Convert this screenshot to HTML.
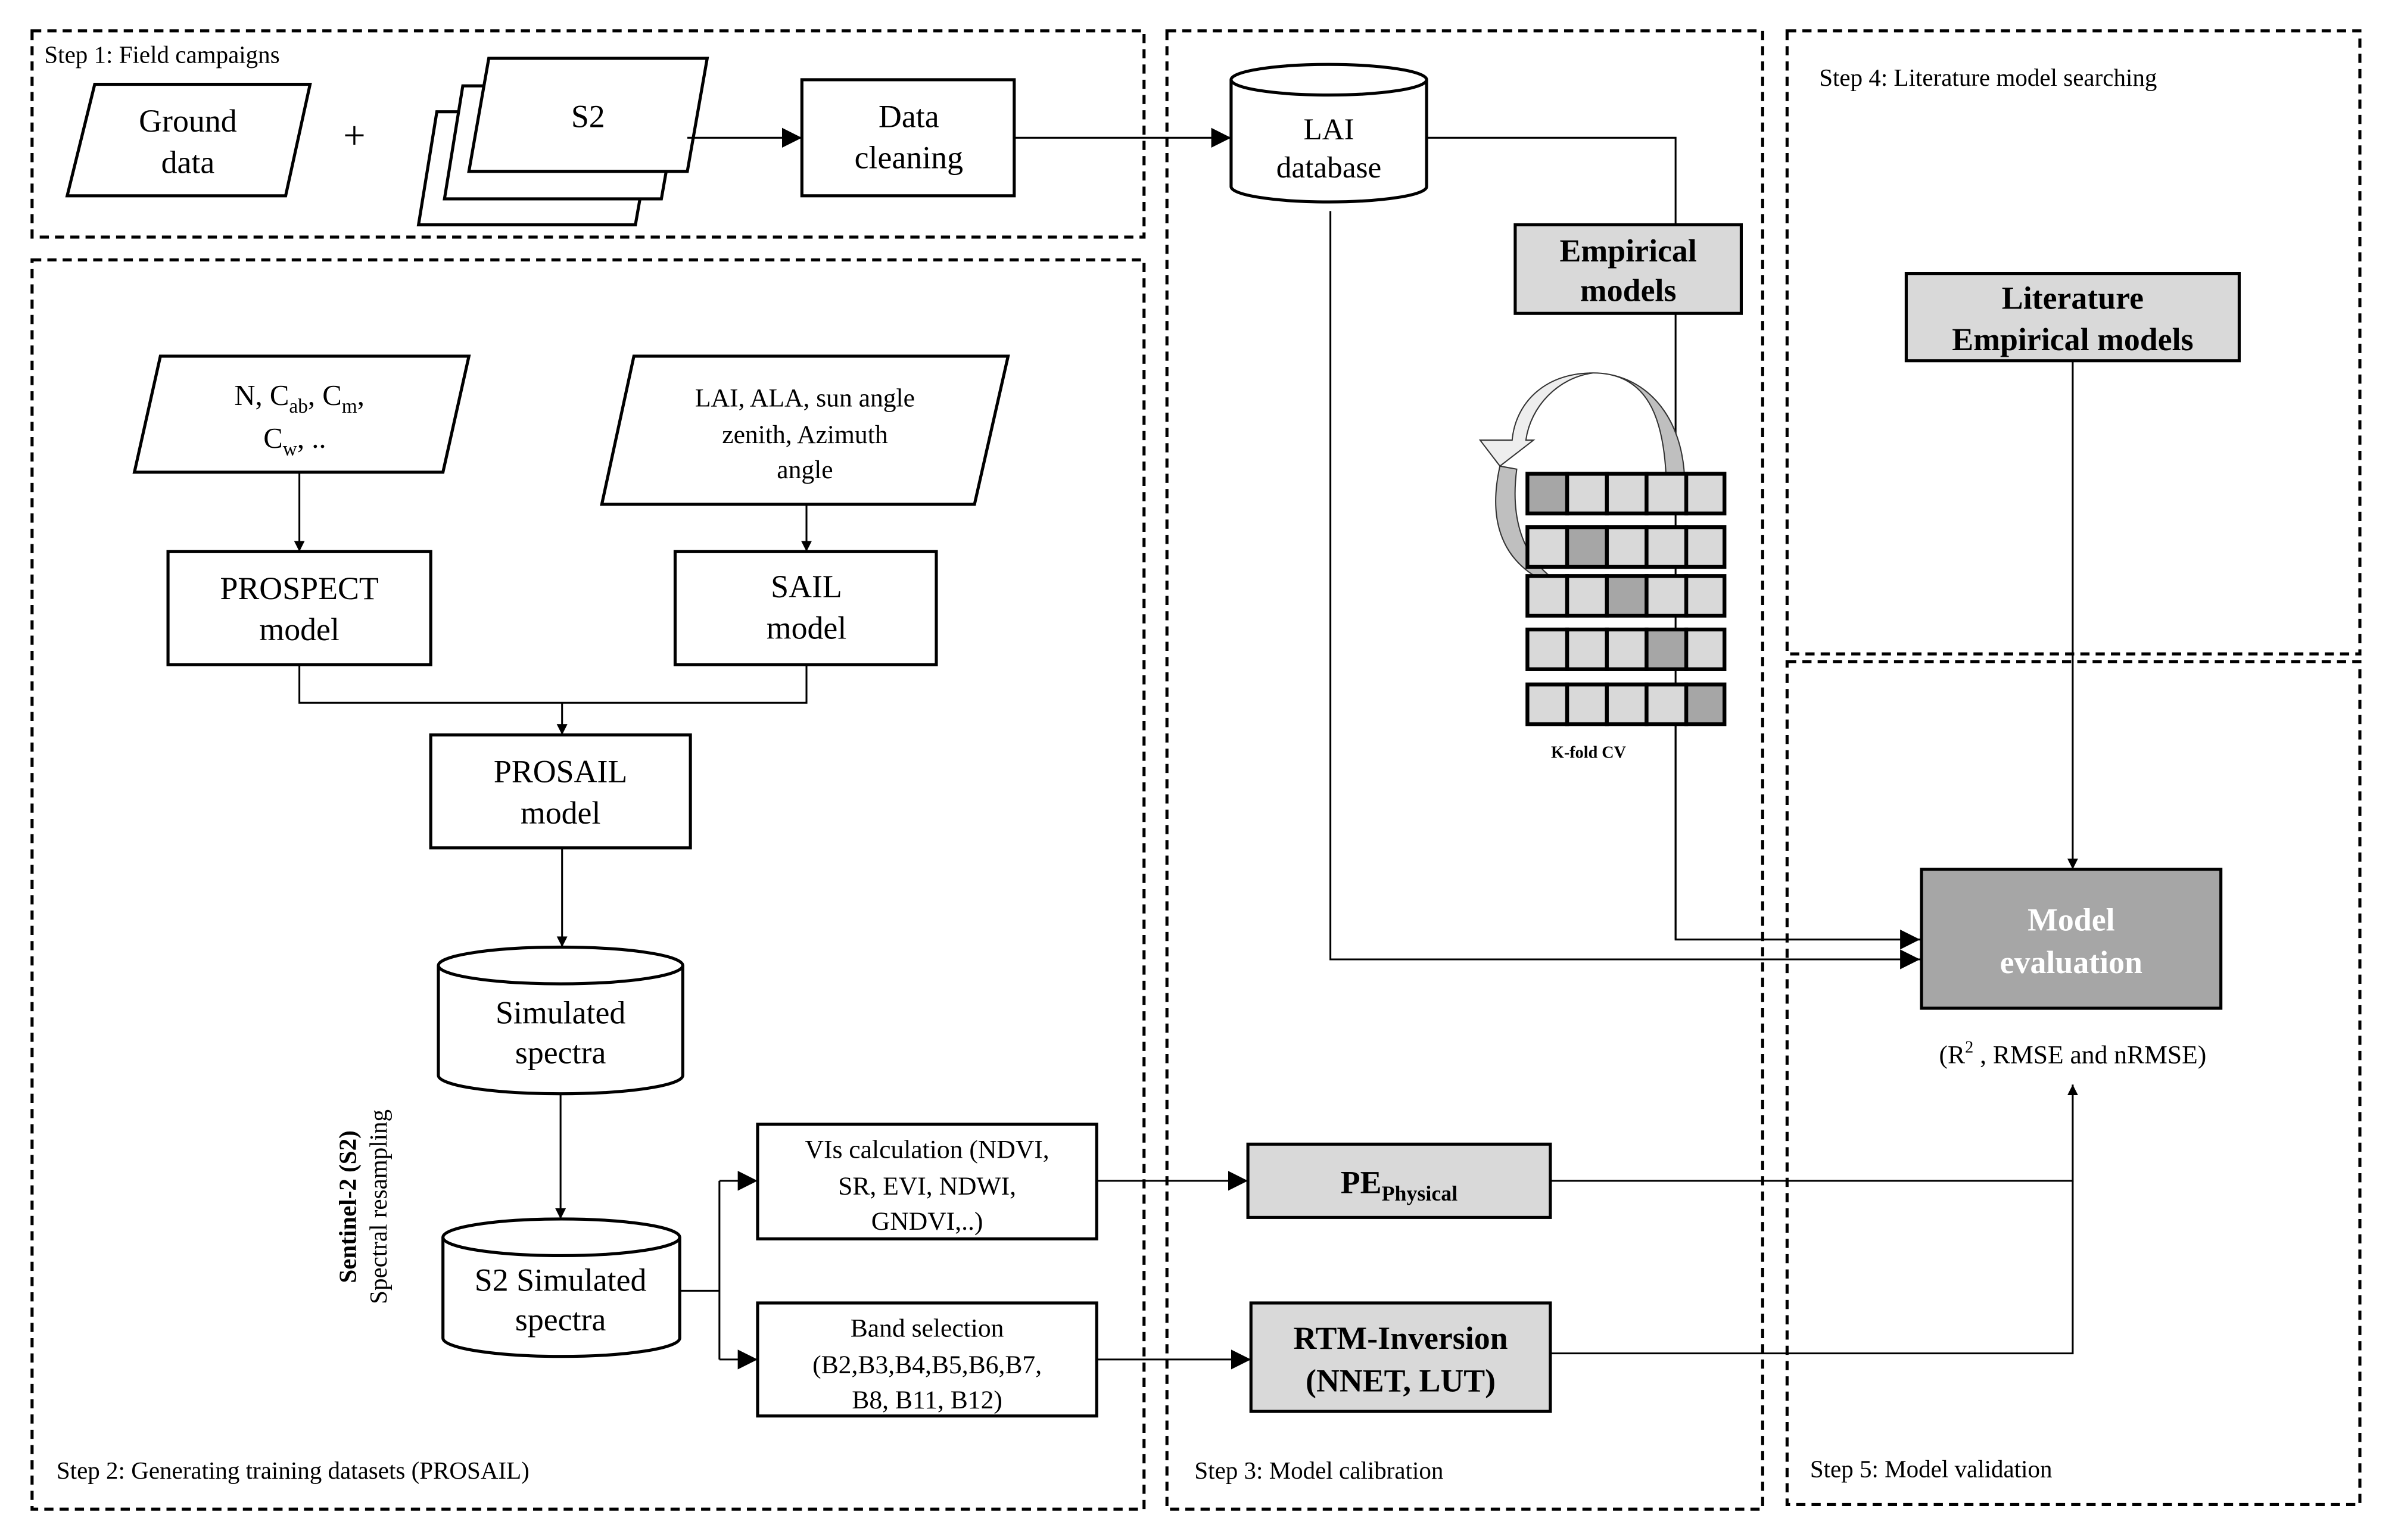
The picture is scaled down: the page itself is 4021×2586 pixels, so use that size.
<!DOCTYPE html>
<html><head><meta charset="utf-8"><style>html,body{margin:0;padding:0;background:#fff}svg{display:block}svg text{font-family:"Liberation Serif","Times New Roman",serif}</style></head>
<body>
<svg xmlns="http://www.w3.org/2000/svg" width="4021" height="2586" viewBox="0 0 1568 1008" font-family="'Liberation Serif', serif">
<defs>
<marker id="a" viewBox="0 0 10 10" refX="10" refY="5" markerWidth="7" markerHeight="7" orient="auto" markerUnits="userSpaceOnUse"><path d="M0,0 L10,5 L0,10z" fill="#000"/></marker>
<marker id="b" viewBox="0 0 10 10" refX="10" refY="5" markerWidth="13" markerHeight="13" orient="auto" markerUnits="userSpaceOnUse"><path d="M0,0 L10,5 L0,10z" fill="#000"/></marker>
</defs>
<rect width="1568" height="1008" fill="#fff"/>
<g fill="none" stroke="#000" stroke-width="2" stroke-dasharray="6,4">
<rect x="21" y="20" width="728" height="135"/>
<rect x="21" y="170" width="728" height="818"/>
<rect x="764" y="20" width="390" height="968"/>
<rect x="1170" y="20" width="375" height="408"/>
<rect x="1170" y="433" width="375" height="552"/>
</g>
<g font-size="16">
<text x="29" y="41">Step 1: Field campaigns</text>
<text x="37" y="968">Step 2: Generating  training  datasets (PROSAIL)</text>
<text x="782" y="968">Step 3: Model calibration</text>
<text x="1191" y="56">Step 4: Literature  model searching</text>
<text x="1185" y="967">Step 5: Model validation</text>
</g>
<g stroke="#000" stroke-width="2" fill="#fff">
<polygon points="62,55 203,55 187,128 44,128"/>
<polygon points="286,73 429,73 416,147 274,147"/>
<polygon points="303,56 446,56 433,130 291,130"/>
<polygon points="320,38 463,38 450,112 307,112"/>
<rect x="525" y="52" width="139" height="76"/>
<path d="M806,52 v70 a64,10 0 0 0 128,0 v-70"/>
<ellipse cx="870" cy="52" rx="64" ry="10"/>
<polygon points="105,233 307,233 290,309 88,309"/>
<polygon points="415,233 660,233 638,330 394,330"/>
<rect x="110" y="361" width="172" height="74"/>
<rect x="442" y="361" width="171" height="74"/>
<rect x="282" y="481" width="170" height="74"/>
<path d="M287,632 v72 a80,12 0 0 0 160,0 v-72"/>
<ellipse cx="367" cy="632" rx="80" ry="12"/>
<path d="M290,810 v66 a77.5,12 0 0 0 155,0 v-66"/>
<ellipse cx="367.5" cy="810" rx="77.5" ry="12"/>
<rect x="496" y="736" width="222" height="75"/>
<rect x="496" y="853" width="222" height="74"/>
<rect x="992" y="147" width="148" height="58" fill="#d9d9d9"/>
<rect x="1248" y="179" width="218" height="57" fill="#d9d9d9"/>
<rect x="1258" y="569" width="196" height="91" fill="#a6a6a6"/>
<rect x="817" y="749" width="198" height="48" fill="#d9d9d9"/>
<rect x="819" y="853" width="196" height="71" fill="#d9d9d9"/>
</g>
<g stroke="#000" stroke-width="1.2" fill="none">
<line x1="450" y1="90" x2="525" y2="90" marker-end="url(#b)"/>
<line x1="664" y1="90" x2="806" y2="90" marker-end="url(#b)"/>
<polyline points="934,90 1097,90 1097,147"/>
<polyline points="1097,205 1097,615 1257,615" marker-end="url(#b)"/>
<polyline points="871,138 871,628 1257,628" marker-end="url(#b)"/>
<line x1="1357" y1="236" x2="1357" y2="569" marker-end="url(#a)"/>
<polyline points="1015,773 1357,773 1357,710" marker-end="url(#a)"/>
<polyline points="1015,886 1357,886 1357,773"/>
<line x1="718" y1="773" x2="817" y2="773" marker-end="url(#b)"/>
<line x1="718" y1="890" x2="819" y2="890" marker-end="url(#b)"/>
<line x1="445" y1="845" x2="471" y2="845"/>
<line x1="471" y1="773" x2="471" y2="890"/>
<line x1="471" y1="773" x2="496" y2="773" marker-end="url(#b)"/>
<line x1="471" y1="890" x2="496" y2="890" marker-end="url(#b)"/>
<line x1="196" y1="309" x2="196" y2="361" marker-end="url(#a)"/>
<line x1="528" y1="330" x2="528" y2="361" marker-end="url(#a)"/>
<polyline points="196,435 196,460 528,460 528,435"/>
<line x1="368" y1="460" x2="368" y2="481" marker-end="url(#a)"/>
<line x1="368" y1="555" x2="368" y2="620" marker-end="url(#a)"/>
<line x1="367" y1="716" x2="367" y2="798" marker-end="url(#a)"/>
</g>
<!-- K-fold arrows -->
<g stroke="#333" stroke-width="0.8">
<path d="M1040,594 Z" fill="none"/>
<path d="M1103,318 C1103,270 1075,244 1043,244 C1078,244 1090,272 1091,318 Z" fill="#bfbfbf"/>
<path d="M1043,244 C1010,244 992,265 990,288 L969,288 L982,305 L1004,288 L999,288 C1002,266 1020,247 1043,244 Z" fill="#eee"/>
<path d="M982,305 C973,345 985,378 1034,388 C1000,375 988,345 993,307 Z" fill="#bfbfbf"/>
</g>
<g stroke="#000" stroke-width="2.5">
<g fill="#d9d9d9">
<rect x="1000" y="310" width="26" height="26" fill="#a6a6a6"/><rect x="1026" y="310" width="26" height="26"/><rect x="1052" y="310" width="26" height="26"/><rect x="1078" y="310" width="26" height="26"/><rect x="1104" y="310" width="25" height="26"/>
<rect x="1000" y="345" width="26" height="26"/><rect x="1026" y="345" width="26" height="26" fill="#a6a6a6"/><rect x="1052" y="345" width="26" height="26"/><rect x="1078" y="345" width="26" height="26"/><rect x="1104" y="345" width="25" height="26"/>
<rect x="1000" y="377" width="26" height="26"/><rect x="1026" y="377" width="26" height="26"/><rect x="1052" y="377" width="26" height="26" fill="#a6a6a6"/><rect x="1078" y="377" width="26" height="26"/><rect x="1104" y="377" width="25" height="26"/>
<rect x="1000" y="412" width="26" height="26"/><rect x="1026" y="412" width="26" height="26"/><rect x="1052" y="412" width="26" height="26"/><rect x="1078" y="412" width="26" height="26" fill="#a6a6a6"/><rect x="1104" y="412" width="25" height="26"/>
<rect x="1000" y="448" width="26" height="26"/><rect x="1026" y="448" width="26" height="26"/><rect x="1052" y="448" width="26" height="26"/><rect x="1078" y="448" width="26" height="26"/><rect x="1104" y="448" width="25" height="26" fill="#a6a6a6"/>
</g></g>
<line x1="1097" y1="474" x2="1097" y2="615" stroke="#000" stroke-width="1.2"/>
<text x="1040" y="496" font-size="11" font-weight="bold" text-anchor="middle">K-fold  CV</text>
<g font-size="21" text-anchor="middle">
<text x="232" y="97" font-size="26">+</text>
<text x="123" y="86">Ground</text><text x="123" y="113">data</text>
<text x="385" y="83">S2</text>
<text x="595" y="83">Data</text><text x="595" y="110">cleaning</text>
<text x="870" y="91" font-size="20">LAI</text><text x="870" y="116" font-size="20">database</text>
<text x="196" y="265" font-size="19">N, C<tspan font-size="13" dy="5">ab</tspan><tspan dy="-5">, C</tspan><tspan font-size="13" dy="5">m</tspan><tspan dy="-5">,</tspan></text>
<text x="193" y="293" font-size="19">C<tspan font-size="13" dy="5">w</tspan><tspan dy="-5">, ..</tspan></text>
<text x="527" y="266" font-size="17">LAI, ALA, sun angle</text>
<text x="527" y="290" font-size="17">zenith, Azimuth</text>
<text x="527" y="313" font-size="17">angle</text>
<text x="196" y="392">PROSPECT</text><text x="196" y="419">model</text>
<text x="528" y="391">SAIL</text><text x="528" y="418">model</text>
<text x="367" y="512">PROSAIL</text><text x="367" y="539">model</text>
<text x="367" y="670">Simulated</text><text x="367" y="696">spectra</text>
<text x="367" y="845">S2 Simulated</text><text x="367" y="871">spectra</text>
<g font-size="17"><text x="607" y="758">VIs calculation (NDVI,</text><text x="607" y="782">SR, EVI, NDWI,</text><text x="607" y="805">GNDVI,..)</text>
<text x="607" y="875">Band selection</text><text x="607" y="899">(B2,B3,B4,B5,B6,B7,</text><text x="607" y="922">B8, B11, B12)</text></g>
<g font-weight="bold">
<text x="1066" y="171">Empirical</text><text x="1066" y="197">models</text>
<text x="1357" y="202">Literature</text><text x="1357" y="229">Empirical models</text>
<text x="1356" y="609" fill="#fff">Model</text><text x="1356" y="637" fill="#fff">evaluation</text>
<text x="916" y="781">PE<tspan font-size="14" dy="5">Physical</tspan></text>
<text x="917" y="883">RTM-Inversion</text><text x="917" y="911">(NNET, LUT)</text>
</g>
<text x="1357" y="696" font-size="17">(R<tspan font-size="11" dy="-7">2</tspan><tspan dy="7"> , RMSE and nRMSE)</tspan></text>
</g>
<g transform="translate(233,790) rotate(-90)" text-anchor="middle" font-size="16">
<text x="0" y="0" font-weight="bold">Sentinel-2 (S2)</text>
<text x="0" y="20">Spectral resampling</text>
</g>
</svg>
</body></html>
